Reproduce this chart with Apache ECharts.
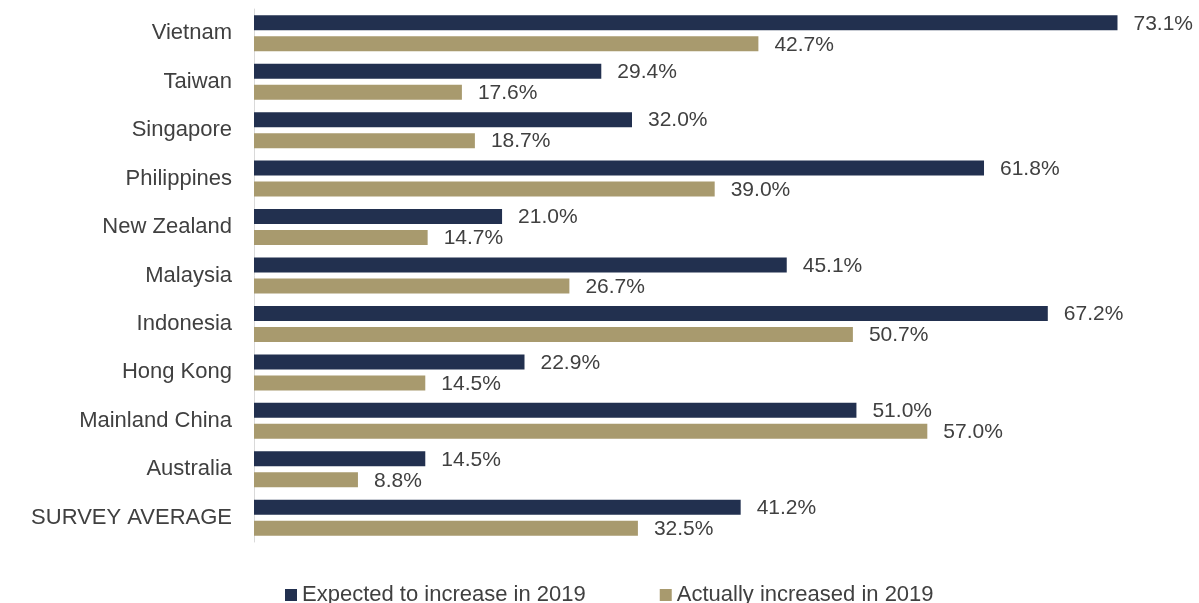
<!DOCTYPE html>
<html>
<head>
<meta charset="utf-8">
<script src="https://cdn.jsdelivr.net/npm/echarts@6/dist/echarts.min.js"></script>
<style>
  html, body { margin: 0; padding: 0; background: #ffffff; }
  #chart { width: 1199px; height: 603px; }
</style>
</head>
<body>
<div id="chart"></div>
<script>
// Countries, top to bottom
const categories = [
  'Vietnam', 'Taiwan', 'Singapore', 'Philippines', 'New Zealand', 'Malaysia',
  'Indonesia', 'Hong Kong', 'Mainland China', 'Australia', 'SURVEY AVERAGE'
];
const expected2019 = [73.1, 29.4, 32.0, 61.8, 21.0, 45.1, 67.2, 22.9, 51.0, 14.5, 41.2];
const actual2019 = [42.7, 17.6, 18.7, 39.0, 14.7, 26.7, 50.7, 14.5, 57.0, 8.8, 32.5];
const seriesNames = ['Expected to increase in 2019', 'Actually increased in 2019'];

const FONT = '"Liberation Sans", Arial, sans-serif';
const TEXT = '#404040';

const chart = echarts.init(document.getElementById('chart'));

const labelCfg = {
  show: true,
  position: 'right',
  distance: 16,
  offset: [0, 1],
  color: TEXT,
  fontSize: 21,
  fontFamily: FONT,
  formatter: p => p.value.toFixed(1) + '%'
};

chart.setOption({
  animation: false,
  grid: { left: 254, right: 0, top: 9, height: 533, containLabel: false },
  legend: {
    top: 579,
    left: 280,
    itemWidth: 12,
    itemHeight: 12,
    itemGap: 74,
    icon: 'rect',
    textStyle: { color: TEXT, fontSize: 22, fontFamily: FONT },
    data: seriesNames
  },
  xAxis: {
    type: 'value',
    min: 0,
    max: 80,
    show: false
  },
  yAxis: {
    type: 'category',
    inverse: true,
    data: categories,
    axisLine: { show: true, lineStyle: { color: '#d9d9d9', width: 1 } },
    axisTick: { show: false },
    axisLabel: { color: TEXT, fontSize: 22, fontFamily: FONT, margin: 22 }
  },
  series: [
    {
      name: seriesNames[0],
      type: 'bar',
      data: expected2019,
      barWidth: 15,
      barGap: '40%',
      itemStyle: { color: '#22304f' },
      label: labelCfg
    },
    {
      name: seriesNames[1],
      type: 'bar',
      data: actual2019,
      barWidth: 15,
      itemStyle: { color: '#a89a6e' },
      label: labelCfg
    }
  ]
});
</script>
</body>
</html>
